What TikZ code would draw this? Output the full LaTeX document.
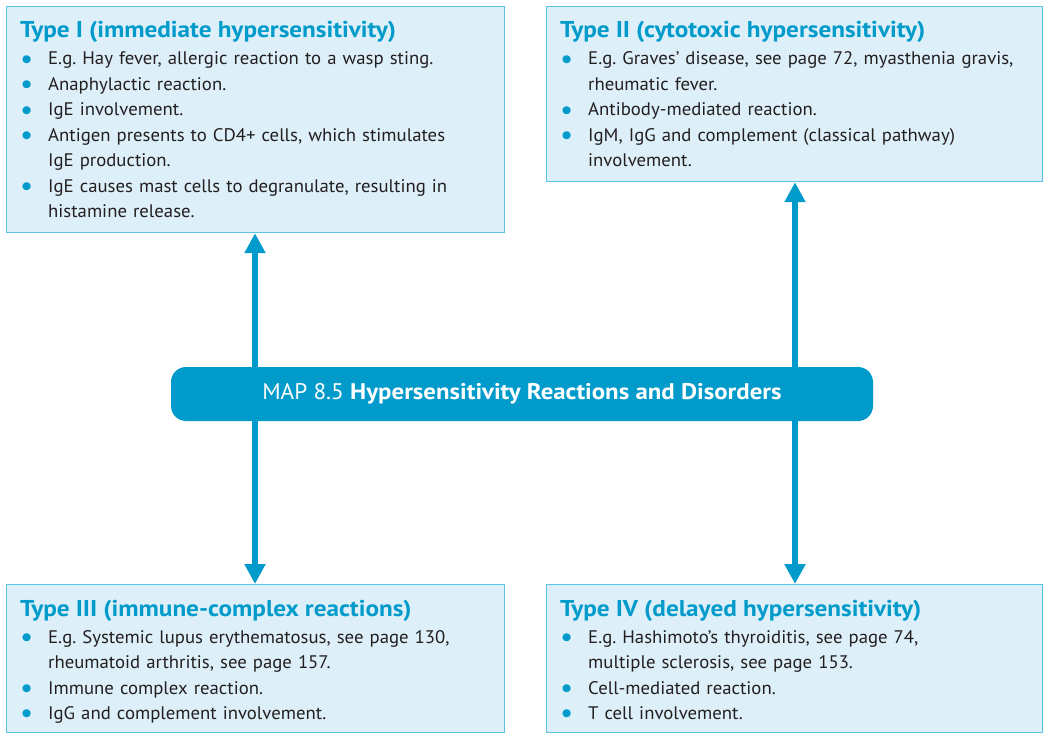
\documentclass[tikz,border=0pt]{standalone}
\usepackage{fontspec}
\setmainfont{PT Sans}[FakeStretch=1.03, BoldFeatures={FakeStretch=1.1}]
\usetikzlibrary{arrows.meta,calc}

\definecolor{mapblue}{HTML}{009BCB}
\definecolor{boxfill}{HTML}{DDEFF8}
\definecolor{boxline}{HTML}{5BC3E6}
\definecolor{bodytext}{HTML}{231F20}

% heading and bullet entries inside the four boxes
\newcommand\maptitle[1]{{\fontsize{22.9}{26}\selectfont\bfseries\color{mapblue}#1\par}\vspace{1.5pt}}
\newcommand\mapitem[1]{\par\hangindent=28pt\hangafter=1\noindent
  \makebox[28pt][l]{\hspace{0pt}\textcolor{mapblue}{\raisebox{-3.4pt}{\scalebox{1.55}{•}}}}#1\par}

\tikzset{
  mapbox/.style={draw=boxline, line width=1.2pt, fill=boxfill, anchor=north west,
    inner sep=0pt, minimum width=#1},
  maptext/.style={anchor=base west, inner sep=0pt, text width=480pt, align=left,
    font=\fontsize{18.2}{25.5}\selectfont\frenchspacing, text=bodytext},
  banner/.style={fill=mapblue, rounded corners=15pt, inner sep=0pt,
    minimum width=702pt, minimum height=54pt, text=white,
    font=\fontsize{22.6}{26}\selectfont},
  maparrow/.style={draw=mapblue, line width=6pt,
    -{Triangle[width=20pt,length=20pt]}},
}

\begin{document}
\begin{tikzpicture}[x=1pt,y=-1pt]
\useasboundingbox (0,0) rectangle (1044,735);

% boxes
\node[mapbox=498pt, minimum height=226pt] (b1) at (6,6) {};
\node[mapbox=496pt, minimum height=175pt] (b2) at (546,6) {};
\node[mapbox=498pt, minimum height=148pt] (b3) at (6,584) {};
\node[mapbox=496pt, minimum height=148pt] (b4) at (546,584) {};

% box texts
\node[maptext] (t1) at ($(b1.north west)+(14,32)$) {%
  \maptitle{Type I (immediate hypersensitivity)}%
  \mapitem{E.g. Hay fever, allergic reaction to a wasp sting.}%
  \mapitem{Anaphylactic reaction.}%
  \mapitem{IgE involvement.}%
  \mapitem{Antigen presents to CD4+ cells, which stimulates\newline IgE production.}%
  \mapitem{IgE causes mast cells to degranulate, resulting in\newline histamine release.}};

\node[maptext] (t2) at ($(b2.north west)+(14,32)$) {%
  \maptitle{Type II (cytotoxic hypersensitivity)}%
  \mapitem{E.g. Graves’ disease, see page 72, myasthenia gravis,\newline rheumatic fever.}%
  \mapitem{Antibody-mediated reaction.}%
  \mapitem{IgM, IgG and complement (classical pathway)\newline involvement.}};

\node[maptext] (t3) at ($(b3.north west)+(14,32)$) {%
  \maptitle{Type III (immune-complex reactions)}%
  \mapitem{E.g. Systemic lupus erythematosus, see page 130,\newline rheumatoid arthritis, see page 157.}%
  \mapitem{Immune complex reaction.}%
  \mapitem{IgG and complement involvement.}};

\node[maptext] (t4) at ($(b4.north west)+(14,32)$) {%
  \maptitle{Type IV (delayed hypersensitivity)}%
  \mapitem{E.g. Hashimoto’s thyroiditis, see page 74,\newline multiple sclerosis, see page 153.}%
  \mapitem{Cell-mediated reaction.}%
  \mapitem{T cell involvement.}};

% central banner
\node[banner] (map) at (522,394) {MAP 8.5 \textbf{Hypersensitivity Reactions and Disorders}};

% connectors
\coordinate (lx) at (255,0);
\coordinate (rx) at (795,0);
\draw[maparrow] (map.north -| lx) -- (b1.south -| lx);
\draw[maparrow] (map.south -| lx) -- (b3.north -| lx);
\draw[maparrow] (map.north -| rx) -- (b2.south -| rx);
\draw[maparrow] (map.south -| rx) -- (b4.north -| rx);
\end{tikzpicture}
\end{document}
